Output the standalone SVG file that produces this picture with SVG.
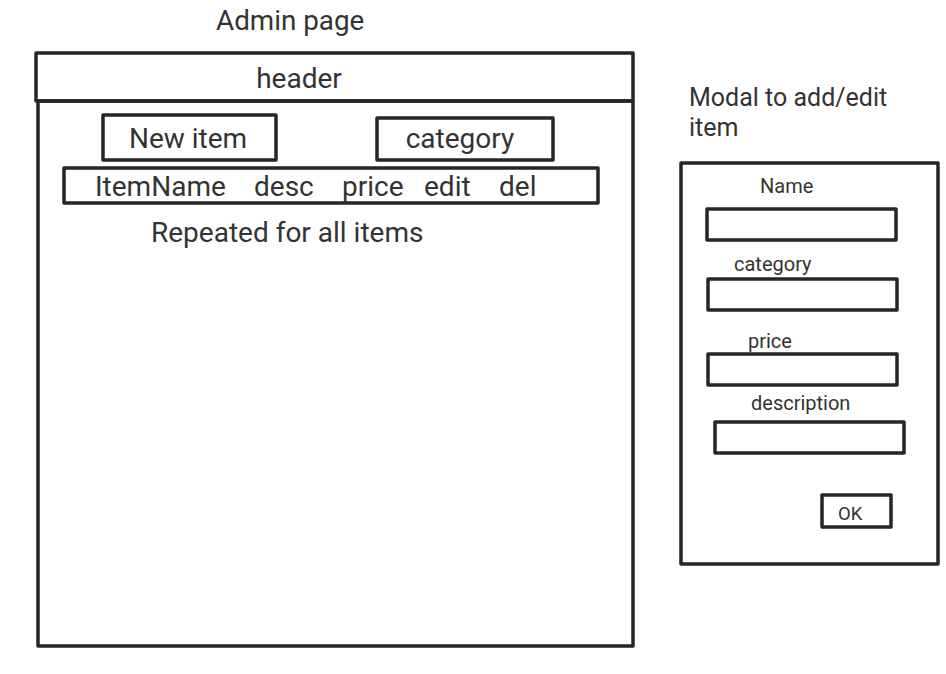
<svg xmlns="http://www.w3.org/2000/svg" width="946" height="674" viewBox="0 0 946 674">
<style>
.b{fill:none;stroke:#262626;stroke-width:3.5;stroke-linejoin:round}
.t{font-family:Roboto,"Liberation Sans",sans-serif;fill:#333}
.l{font-size:28px}
.s{font-size:20px}
</style>
<rect width="946" height="674" fill="#fff"/>
<g id="admin-title"><text class="t" x="216" y="30" font-size="27.8">Admin page</text></g>
<g id="admin-page">
<rect class="b" x="38" y="101" width="595" height="545"/>
</g>
<g id="header">
<rect class="b" x="36" y="53" width="597" height="48"/>
<text class="t l" x="299" y="88" text-anchor="middle">header</text>
</g>
<g id="new-item">
<rect class="b" x="103" y="115" width="173" height="45"/>
<text class="t l" x="188" y="148" text-anchor="middle">New item</text>
</g>
<g id="category">
<rect class="b" x="377" y="118" width="176" height="42"/>
<text class="t l" x="460" y="148" text-anchor="middle">category</text>
</g>
<g id="item-row">
<rect class="b" x="64" y="168" width="534" height="35"/>
<text class="t l" x="95" y="196">ItemName</text>
<text class="t l" x="254" y="196">desc</text>
<text class="t l" x="342" y="196">price</text>
<text class="t l" x="424" y="196">edit</text>
<text class="t l" x="499" y="196">del</text>
</g>
<g id="repeated-note"><text class="t l" x="151" y="242">Repeated for all items</text></g>
<g id="modal-title">
<text class="t" x="689" y="106" font-size="25">Modal to add/edit</text>
<text class="t" x="689" y="136" font-size="25">item</text>
</g>
<g id="modal">
<rect class="b" x="681" y="163" width="257" height="401"/>
</g>
<g id="name-field">
<text class="t s" x="760" y="193">Name</text>
<rect class="b" x="707" y="209" width="189" height="31"/>
</g>
<g id="category-field">
<text class="t s" x="734" y="271">category</text>
<rect class="b" x="708" y="279" width="189" height="31"/>
</g>
<g id="price-field">
<text class="t s" x="748" y="348">price</text>
<rect class="b" x="708" y="354" width="189" height="31"/>
</g>
<g id="description-field">
<text class="t s" x="751" y="410">description</text>
<rect class="b" x="715" y="422" width="189" height="31"/>
</g>
<g id="ok-button">
<rect class="b" x="822" y="495" width="69" height="32"/>
<text class="t" x="838" y="520" font-size="18.5">OK</text>
</g>
<g id="connectors"></g>
</svg>
